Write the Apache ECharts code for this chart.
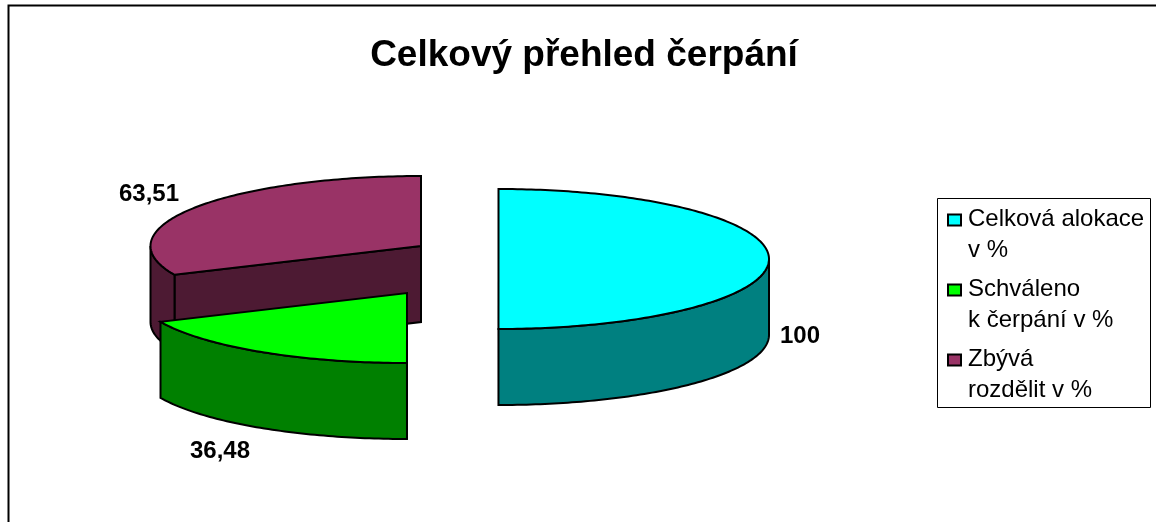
<!DOCTYPE html>
<html><head><meta charset="utf-8">
<style>html,body{margin:0;padding:0;background:#fff}#c{width:1156px;height:522px}</style>
<script src="https://cdn.jsdelivr.net/npm/echarts@6/dist/echarts.min.js"></script>
</head><body><div id="c"></div>
<script>
const categories = ['Celková alokace\nv %', 'Schváleno\nk čerpání v %', 'Zbývá\nrozdělit v %'];
const values = [100, 36.48, 63.51];
const valueLabels = ['100', '36,48', '63,51'];
const topColors = ['#00FFFF', '#00FF00', '#993366'];
const wallColors = ['#008080', '#008000', '#4D1A33'];
const centers = [[498.5, 259], [407, 293], [421, 246]];
const labelPos = [[800, 336], [220, 451], [149, 194]];
const RX = 270.5, RY = 70, DEPTH = 76, FONT = '"Liberation Sans", Arial, sans-serif';
const total = values.reduce((a, b) => a + b, 0);
const starts = values.map((_, i) => values.slice(0, i).reduce((a, b) => a + b, 0) / total);

function pt(c, f, dy) {
  const a = 2 * Math.PI * f;
  return [c[0] + RX * Math.sin(a), c[1] - RY * Math.cos(a) + (dy || 0)];
}
function arc(c, f0, f1, dy) {
  const n = Math.max(2, Math.ceil(Math.abs(f1 - f0) * 360)), out = [];
  for (let i = 0; i <= n; i++) out.push(pt(c, f0 + (f1 - f0) * i / n, dy));
  return out;
}
const line = { stroke: '#000', lineWidth: 2, lineJoin: 'miter' };
function poly(points, fill) {
  return { type: 'polygon', shape: { points }, style: Object.assign({ fill }, line) };
}
function makeRender(i) {
  return function (params, api) {
    const v = api.value(0), c = centers[i];
    const f0 = starts[i], f1 = f0 + v / total, kids = [];
    const down = p => [p[0], p[1] + DEPTH];
    // the remainder slice shows its radial face towards the viewer
    if (f0 > 0.5 && f0 < 0.75) {
      const p = pt(c, f0);
      kids.push(poly([c, p, down(p), down(c)], wallColors[i]));
    }
    // curved outer wall on the near half of the ellipse
    const a0 = Math.max(f0, 0.25), a1 = Math.min(f1, 0.75);
    if (a1 > a0) {
      const upper = arc(c, a0, a1), lower = arc(c, a0, a1, DEPTH).reverse();
      kids.push(poly(upper.concat(lower), wallColors[i]));
    }
    kids.push(poly([c].concat(arc(c, f0, f1)), topColors[i]));
    const lp = labelPos[i];
    kids.push({ type: 'text', style: { text: valueLabels[i], x: lp[0], y: lp[1], align: 'center', verticalAlign: 'middle',
      fill: '#000', font: 'bold 24px ' + FONT } });
    return { type: 'group', children: kids };
  };
}
const drawOrder = [2, 1, 0];
const chart = echarts.init(document.getElementById('c'), null, { renderer: 'canvas' });
chart.setOption({
  animation: false,
  backgroundColor: '#fff',
  title: { text: 'Celkový přehled čerpání', left: 579, top: 32, textAlign: 'center',
    textStyle: { fontFamily: FONT, fontWeight: 'bold', fontSize: 37, color: '#000' } },
  legend: {
    orient: 'vertical', left: 947, top: 184, padding: 0, itemGap: -8,
    selectedMode: false, itemWidth: 13, itemHeight: 11, icon: 'rect', align: 'left',
    formatter: name => '{b| }\n' + name.split('\n').map(s => '{a|' + s + '}').join('\n'),
    textStyle: { fontFamily: FONT, fontSize: 24, color: '#000',
      rich: { a: { fontFamily: FONT, fontSize: 24, lineHeight: 31, padding: [0, 0, 0, 2], color: '#000' }, b: { fontSize: 10, lineHeight: 29 } } },
    data: categories.map((name, i) => ({ name, itemStyle: { color: topColors[i], borderColor: '#000', borderWidth: 2 } }))
  },
  graphic: [
    { type: 'polyline', shape: { points: [[8.5, 522], [8.5, 5.5], [1156, 5.5]] }, style: { stroke: '#000', lineWidth: 2, fill: null }, silent: true },
    { type: 'rect', shape: { x: 937.5, y: 198.5, width: 213, height: 209 }, style: { stroke: '#000', lineWidth: 1, fill: null }, silent: true }
  ],
  series: drawOrder.map(i => ({
    type: 'custom', name: categories[i], coordinateSystem: 'none', silent: true,
    itemStyle: { color: topColors[i] }, renderItem: makeRender(i), data: [[values[i]]], encode: { value: 0 }
  }))
});
</script></body></html>
